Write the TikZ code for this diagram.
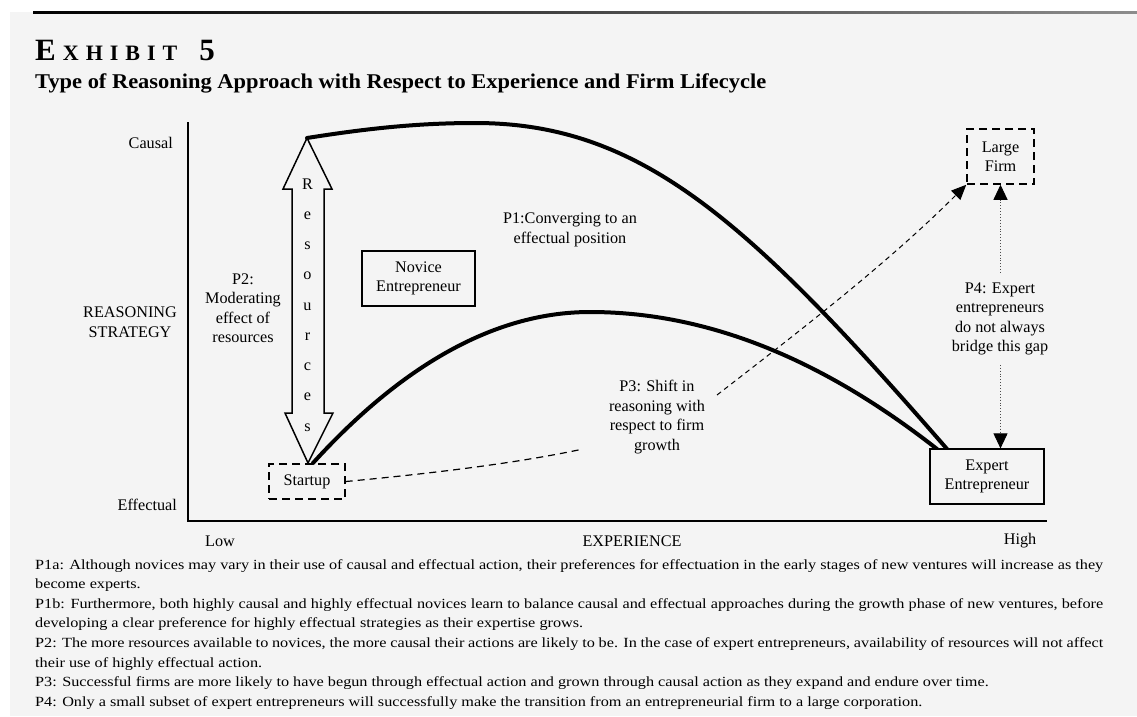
\documentclass[tikz,border=0pt]{standalone}
\usepackage{fontspec}
\setmainfont{Liberation Serif}
\newfontfamily\notefont{Liberation Serif}[FakeStretch=1.16]
\usetikzlibrary{arrows.meta}
\definecolor{bg}{RGB}{244,244,244}
\newcommand{\dfont}{\fontsize{16.2}{19.5}\selectfont}
\newcommand{\nfont}{\notefont\fontsize{14}{19.6}\selectfont}
\begin{document}
\begin{tikzpicture}[x=1pt,y=-1pt,
  lbl/.style={font=\dfont, align=center, inner sep=0pt},
  solidbox/.style={draw, line width=1.2pt, minimum height=55pt, inner sep=0pt, align=center, font=\dfont},
  dashbox/.style={draw, dash pattern=on 8pt off 5pt, line width=1.5pt, inner sep=0pt, align=center, font=\dfont},
  curve/.style={line width=4pt, line join=round, line cap=round},
  note/.style={anchor=base west, inner sep=0pt, font=\nfont},
]
\useasboundingbox (0,0) rectangle (1137,716);
\fill[white] (0,0) rectangle (1137,716);
\fill[bg] (10,12) rectangle (1137,716);
\shade[left color=black, right color=black!45] (33,11.4) rectangle (1137,13.2);

% title
\node[anchor=base west, inner sep=0pt, font=\bfseries] (ex5) at (35,60) {\fontsize{31}{31}\selectfont E\hspace{7pt}{\fontsize{22}{22}\selectfont X\hspace{7pt}H\hspace{7pt}I\hspace{7pt}B\hspace{7pt}I\hspace{7pt}T}\hspace{22pt}5};
\node[anchor=base west, inner sep=0pt, font=\bfseries\fontsize{21}{21}\selectfont] (sub) at (35,88) {\resizebox{731pt}{\height}{Type of Reasoning Approach with Respect to Experience and Firm Lifecycle}};

% axes
\coordinate (ytop) at (188,122);
\coordinate (orig) at (188,521);
\coordinate (xend) at (1047,521);
\draw[line width=2pt] (ytop) -- (orig) -- (xend);

\node[lbl, anchor=east] (causal) at (173,143) {Causal};
\node[lbl, anchor=east] (effectual) at (177,505) {Effectual};
\node[lbl] (rs) at (130,322) {REASONING\\STRATEGY};
\node[lbl] (low) at (220,541) {Low};
\node[lbl] (expx) at (632,541) {EXPERIENCE};
\node[lbl] (high) at (1020,541) {High};

% resources double arrow
\draw[line width=1.5pt, fill=bg] (307,138) -- (332,189) -- (324,189) -- (324,413) -- (333,413) -- (308,463) -- (285,413) -- (292,413) -- (292,189) -- (283,189) -- cycle;
\node[inner sep=0pt, align=center, font=\fontsize{16.2}{30.25}\selectfont] (res) at (307.5,305) {R\\e\\s\\o\\u\\r\\c\\e\\s};

% curves
\draw[curve] (307,138) .. controls (370,128) and (420,123) .. (475,123) .. controls (640,123) and (747,219) .. (947,449);
\draw[curve] (313,463) .. controls (405,362) and (498,312) .. (590,312) .. controls (706,312) and (821,358) .. (937,449);

% boxes
\node[solidbox, minimum width=113pt] (nov) at (418.5,278.5) {Novice\\Entrepreneur};
\node[dashbox, minimum width=76pt, minimum height=35pt] (su) at (307,481.5) {Startup};
\node[dashbox, minimum width=67pt, minimum height=55pt] (lf) at (1000.5,156.5) {Large\\Firm};
\node[solidbox, minimum width=114pt, fill=bg] (ex) at (987,476.5) {Expert\\Entrepreneur};

% labels
\node[lbl] (p1) at (570,230) {P1:Converging to an\\effectual position};
\node[lbl] (p2) at (243,308) {P2:\\Moderating\\effect of\\resources};
\node[lbl] (p3) at (657,417) {P3: Shift in\\reasoning with\\respect to firm\\growth};

% P3 dashed connector
\coordinate (p3a) at (583,449);
\coordinate (p3b) at (717,395);
\draw[dash pattern=on 7pt off 5pt, line width=1.2pt] (su.east) .. controls (425,474) and (513,464) .. (p3a);
\draw[dash pattern=on 5pt off 4pt, line width=1pt, -{Triangle[length=15pt,width=13pt]}] (p3b) .. controls (797,333) and (887,264) .. (lf.south west);

% P4 dotted connector
\draw[dotted, line width=0.9pt, black!70, {Triangle[length=15pt,width=14pt,black]}-{Triangle[length=15pt,width=14pt,black]}] (lf.south) -- (lf.south |- ex.north);
\node[lbl, fill=bg, inner xsep=2pt, inner ysep=10pt] (p4) at (1000,319) {P4: Expert\\entrepreneurs\\do not always\\bridge this gap};

% notes
\node[note] (n1) at (35,569) {\makebox[1068pt][s]{P1a: Although novices may vary in their use of causal and effectual action, their preferences for effectuation in the early stages of new ventures will increase as they}};
\node[note] (n2) at (35,588.6) {become experts.};
\node[note] (n3) at (35,608.2) {\makebox[1068pt][s]{P1b: Furthermore, both highly causal and highly effectual novices learn to balance causal and effectual approaches during the growth phase of new ventures, before}};
\node[note] (n4) at (35,627.8) {developing a clear preference for highly effectual strategies as their expertise grows.};
\node[note] (n5) at (35,647.4) {\makebox[1068pt][s]{P2: The more resources available to novices, the more causal their actions are likely to be. In the case of expert entrepreneurs, availability of resources will not affect}};
\node[note] (n6) at (35,667) {their use of highly effectual action.};
\node[note] (n7) at (35,686.6) {P3: Successful firms are more likely to have begun through effectual action and grown through causal action as they expand and endure over time.};
\node[note] (n8) at (35,706.2) {P4: Only a small subset of expert entrepreneurs will successfully make the transition from an entrepreneurial firm to a large corporation.};
\end{tikzpicture}
\end{document}
